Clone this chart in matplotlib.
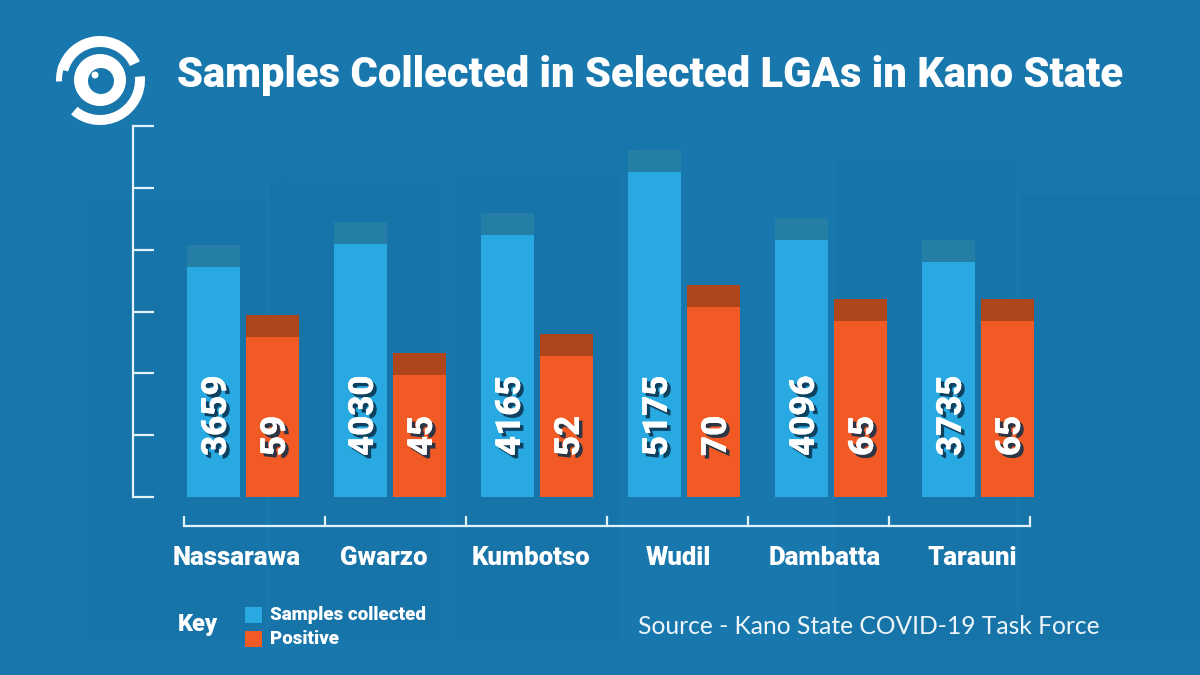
import matplotlib
matplotlib.use('Agg')
import matplotlib.pyplot as plt
import matplotlib.patheffects as pe
from matplotlib.patches import Rectangle, Wedge, Circle, Polygon
import numpy as np

# ---- data ----
lgas = ['Nassarawa', 'Gwarzo', 'Kumbotso', 'Wudil', 'Dambatta', 'Tarauni']
samples = [3659, 4030, 4165, 5175, 4096, 3735]
positive = [59, 45, 52, 70, 65, 65]

title = 'Samples Collected in Selected LGAs in Kano State'
legend_labels = ['Samples collected', 'Positive']
source = 'Source - Kano State COVID-19 Task Force'

# ---- style ----
BG = '#1878ae'
BLUE = '#29a9e1'
BLUE_CAP = '#247ea6'
ORANGE = '#f15a24'
ORANGE_CAP = '#ae451b'
LINE = '#e3f1fa'
FONT = 'Roboto'
FONT_SRC = 'Lato'

W, H = 1200, 675
fig = plt.figure(figsize=(12, 6.75), dpi=100)
fig.patch.set_facecolor(BG)

# overlay in pixel coordinates (decoration, logo, legend)
bg = fig.add_axes([0, 0, 1, 1], zorder=0)
bg.set_xlim(0, W)
bg.set_ylim(H, 0)
bg.axis('off')

# faint background boxes
deco_boxes = [
    [(88, 200), (265, 200), (265, 640), (88, 640)],
    [(270, 185), (440, 185), (440, 640), (270, 640)],
    [(455, 175), (620, 175), (620, 640), (455, 640)],
    [(835, 160), (1015, 160), (1015, 640), (835, 640)],
    [(1020, 195), (1200, 195), (1200, 640), (1020, 640)],
]
deco_tops = [
    [(88, 200), (130, 165), (300, 165), (265, 200)],
    [(270, 185), (320, 150), (470, 150), (440, 185)],
    [(455, 175), (500, 140), (650, 140), (620, 175)],
    [(835, 160), (880, 140), (1040, 140), (1015, 160)],
    [(1020, 195), (1070, 160), (1200, 160), (1200, 195)],
]
for p in deco_boxes:
    bg.add_patch(Polygon(p, closed=True, facecolor='#0d4f7a', alpha=0.08, lw=0))
for p in deco_tops:
    bg.add_patch(Polygon(p, closed=True, facecolor='#0d4f7a', alpha=0.045, lw=0))

# logo
cx, cy = 100, 80
bg.add_patch(Wedge((cx, cy), 45, -5, 130, width=10, facecolor='white', lw=0))
bg.add_patch(Wedge((cx, cy), 44, 195, 335, width=11, facecolor='white', lw=0))
bg.add_patch(Wedge((cx, cy), 44, 178, 200, width=6, facecolor='white', lw=0))
bg.add_patch(Circle((cx, cy), 26, facecolor='white', lw=0))
bg.add_patch(Circle((cx + 1, cy + 1), 13, facecolor=BG, lw=0))
bg.add_patch(Circle((cx - 5, cy - 5), 3.5, facecolor='white', lw=0))

# title
bg.text(177, 75, title, fontsize=30.1, fontweight='black', family=FONT,
        color='white', ha='left', va='center')

# x axis bracket line
x_line_ticks = [184 + 141 * i for i in range(7)]
bg.plot([x_line_ticks[0], x_line_ticks[-1]], [526, 526], color=LINE, lw=1.6,
        solid_capstyle='butt')
for xt in x_line_ticks:
    bg.plot([xt, xt], [526, 517], color=LINE, lw=1.6)

# legend (key)
bg.text(178, 624, 'Key', fontsize=17, fontweight='black', family=FONT,
        color='white', ha='left', va='center')
bg.add_patch(Rectangle((245, 607), 17, 16, facecolor=BLUE, lw=0))
bg.add_patch(Rectangle((245, 631), 17, 16, facecolor=ORANGE, lw=0))
bg.text(270, 615, legend_labels[0], fontsize=13.5, fontweight='black', family=FONT,
        color='white', ha='left', va='center')
bg.text(270, 639, legend_labels[1], fontsize=13.5, fontweight='black', family=FONT,
        color='white', ha='left', va='center')

# source
bg.text(1100, 627, source, fontsize=17.7, family=FONT_SRC, color='#eef5fa',
        ha='right', va='center')

# ---- main chart ----
ax_left, ax_right, ax_top, ax_bot = 133, 1050, 126, 497
ax = fig.add_axes([ax_left / W, (H - ax_bot) / H, (ax_right - ax_left) / W,
                   (ax_bot - ax_top) / H], zorder=2)
ax.patch.set_alpha(0)

step = 147.0
x0 = 243.0
x = np.arange(len(lgas))
bw = 53 / step
off = 29.5 / step
ax.set_xlim((ax_left - x0) / step, (ax_right - x0) / step)

px_h = ax_bot - ax_top
s_max = px_h / 0.0628
p_max = px_h / 2.71
cap_px = 22

ax.set_ylim(0, s_max)
ax.bar(x - off, samples, width=bw, color=BLUE, lw=0, zorder=2)
ax.bar(x - off, [cap_px * s_max / px_h] * len(x), bottom=samples, width=bw,
       color=BLUE_CAP, lw=0, zorder=2)

for s in ['top', 'right', 'bottom']:
    ax.spines[s].set_visible(False)
ax.spines['left'].set_color(LINE)
ax.spines['left'].set_linewidth(1.6)
ax.set_yticks(np.linspace(0, s_max, 7))
ax.tick_params(axis='y', direction='in', length=15, width=1.6, color=LINE,
               labelleft=False)
ax.set_xticks([])

ax2 = ax.twinx()
ax2.set_ylim(0, p_max)
ax2.bar(x + off, positive, width=bw, color=ORANGE, lw=0, zorder=2)
ax2.bar(x + off, [cap_px * p_max / px_h] * len(x), bottom=positive, width=bw,
        color=ORANGE_CAP, lw=0, zorder=2)
for s in ax2.spines.values():
    s.set_visible(False)
ax2.set_yticks([])

shadow = [pe.withSimplePatchShadow(offset=(2.5, -2.5), shadow_rgbFace='#0a2f4a',
                                   alpha=0.85), pe.Normal()]
ytxt = (ax_bot - 456) / px_h
tr = ax.get_xaxis_transform()
for i in range(len(x)):
    ax2.text(x[i] - off + 0.02, ytxt, str(samples[i]), transform=tr, rotation=90,
             rotation_mode='anchor', ha='left', va='center', fontsize=25,
             fontweight='black', family=FONT, color='white', path_effects=shadow,
             zorder=5)
    ax2.text(x[i] + off + 0.02, ytxt, str(positive[i]), transform=tr, rotation=90,
             rotation_mode='anchor', ha='left', va='center', fontsize=25,
             fontweight='black', family=FONT, color='white', path_effects=shadow,
             zorder=5)
    ax2.text(x[i] - 0.04, (ax_bot - 558) / px_h, lgas[i], transform=tr,
             ha='center', va='center', fontsize=18.5, fontweight='black',
             family=FONT, color='white', clip_on=False)

fig.savefig('out.png', dpi=100, facecolor=BG)
